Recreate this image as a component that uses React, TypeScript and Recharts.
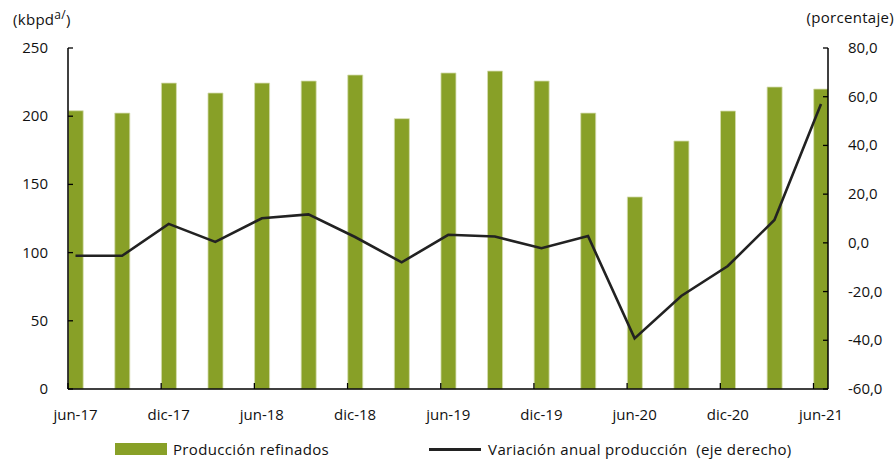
import React from 'react';
import { ComposedChart, Bar, Line, XAxis, YAxis } from 'recharts';

// trimestral, jun-17 a jun-21
const periods = [
  'jun-17', 'sep-17', 'dic-17', 'mar-18', 'jun-18', 'sep-18', 'dic-18', 'mar-19',
  'jun-19', 'sep-19', 'dic-19', 'mar-20', 'jun-20', 'sep-20', 'dic-20', 'mar-21', 'jun-21',
];
const produccion = [
  204.0, 202.3, 224.3, 217.0, 224.3, 225.8, 230.2, 198.2,
  231.7, 233.1, 225.8, 202.3, 140.8, 181.8, 203.8, 221.4, 219.9,
];
const variacion = [
  -5.3, -5.3, 7.8, 0.4, 10.1, 11.7, 2.4, -8.0,
  3.3, 2.6, -2.2, 2.8, -39.2, -21.8, -9.5, 9.4, 57.0,
];
const xTicks = [0, 2, 4, 6, 8, 10, 12, 14, 16];
const leftTicks = [0, 50, 100, 150, 200, 250];
const rightTicks = [-60, -40, -20, 0, 20, 40, 60, 80];

const data = periods.map((p, i) => ({
  idx: i,
  periodo: p,
  produccion: produccion[i],
  variacion: variacion[i],
}));

const FONT = '"Open Sans", sans-serif';
const BAR_COLOR = '#88a027';
const LINE_COLOR = '#222222';
const BAR_W = 15;

const XTick = (props: any) => {
  const { x, y, payload } = props;
  const tx = x - BAR_W / 2;
  return (
    <g>
      <line x1={tx} y1={y} x2={tx} y2={y - 6} stroke="#000" strokeWidth={1.3} />
      <text x={x} y={y + 31} textAnchor="middle" fontSize={15} fontFamily={FONT} fill="#111">
        {periods[payload.value]}
      </text>
    </g>
  );
};

const LeftTick = (props: any) => {
  const { x, y, payload } = props;
  return (
    <g>
      <line x1={x} y1={y} x2={x + 5} y2={y} stroke="#000" strokeWidth={1.3} />
      <text x={x - 20} y={y + 5} textAnchor="end" fontSize={15} fontFamily={FONT} fill="#111">
        {payload.value}
      </text>
    </g>
  );
};

const RightTick = (props: any) => {
  const { x, y, payload } = props;
  return (
    <g>
      <line x1={x - 5} y1={y} x2={x} y2={y} stroke="#000" strokeWidth={1.3} />
      <text x={x + 20} y={y + 5} textAnchor="start" fontSize={15} fontFamily={FONT} fill="#111">
        {payload.value.toFixed(1).replace('.', ',')}
      </text>
    </g>
  );
};

export default function App() {
  return (
    <div style={{ position: 'absolute', left: 0, top: 0, width: 896, height: 464, background: '#fff', fontFamily: FONT, color: '#111' }}>
      <ComposedChart
        width={896}
        height={464}
        data={data}
        margin={{ top: 48, right: 0, bottom: 0, left: 0 }}
      >
        <XAxis
          xAxisId="x"
          dataKey="idx"
          type="number"
          domain={[-0.161, 16.15]}
          ticks={xTicks}
          allowDataOverflow
          height={75}
          tickSize={0}
          tickMargin={0}
          tickLine={false}
          tick={<XTick />}
          axisLine={{ stroke: '#000', strokeWidth: 1.5 }}
        />
        <YAxis
          yAxisId="left"
          domain={[0, 250]}
          ticks={leftTicks}
          width={68}
          tickSize={0}
          tickMargin={0}
          tickLine={false}
          tick={<LeftTick />}
          axisLine={{ stroke: '#000', strokeWidth: 1.5 }}
        />
        <YAxis
          yAxisId="right"
          orientation="right"
          domain={[-60, 80]}
          ticks={rightTicks}
          width={68}
          tickSize={0}
          tickMargin={0}
          tickLine={false}
          tick={<RightTick />}
          axisLine={{ stroke: '#000', strokeWidth: 1.5 }}
        />
        <Bar
          xAxisId="x"
          yAxisId="left"
          dataKey="produccion"
          barSize={BAR_W}
          fill={BAR_COLOR}
          stroke="#d6ddb0"
          strokeWidth={0.8}
          isAnimationActive={false}
        />
        <Line
          xAxisId="x"
          yAxisId="right"
          dataKey="variacion"
          type="linear"
          stroke={LINE_COLOR}
          strokeWidth={2.6}
          dot={false}
          activeDot={false}
          isAnimationActive={false}
        />
      </ComposedChart>

      <div style={{ position: 'absolute', left: 13, top: 6, fontSize: 15, letterSpacing: 0.3, whiteSpace: 'nowrap' }}>
        (kbpd<sup style={{ fontSize: 12 }}>a/</sup>)
      </div>
      <div style={{ position: 'absolute', right: 2, top: 7, fontSize: 15, letterSpacing: 0.3, whiteSpace: 'nowrap' }}>
        (porcentaje)
      </div>

      <div style={{ position: 'absolute', left: 115, top: 439, display: 'flex', alignItems: 'center', fontSize: 15, letterSpacing: 0.35, whiteSpace: 'nowrap' }}>
        <span style={{ display: 'inline-block', width: 52, height: 12, background: BAR_COLOR, marginRight: 6 }} />
        <span>Producción refinados</span>
        <span style={{ display: 'inline-block', width: 52, height: 3, background: LINE_COLOR, marginLeft: 100, marginRight: 7 }} />
        <span>Variación anual producción&nbsp; (eje derecho)</span>
      </div>
    </div>
  );
}
